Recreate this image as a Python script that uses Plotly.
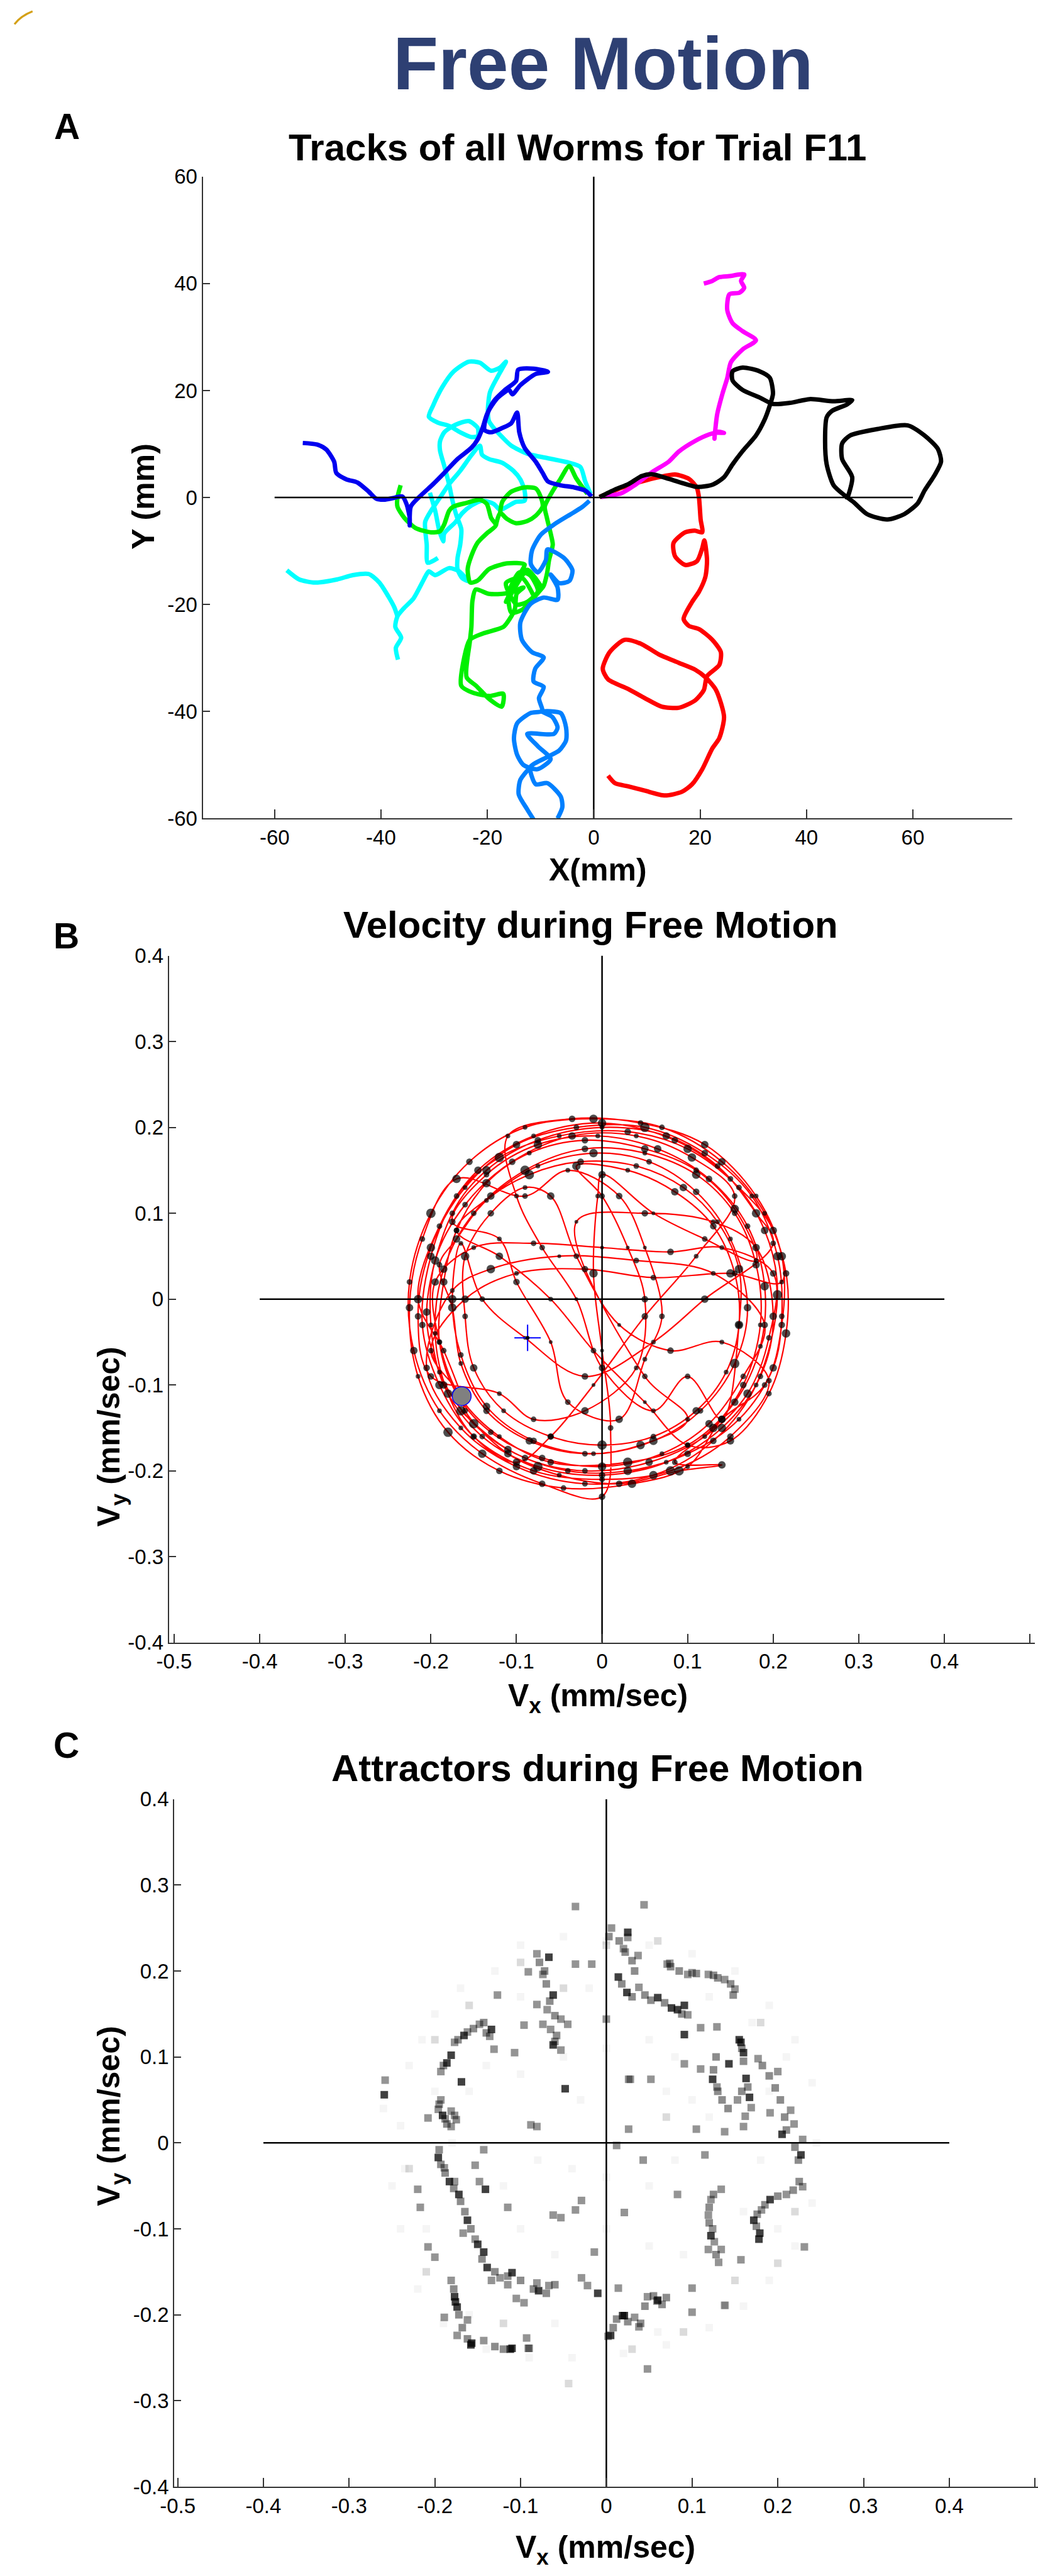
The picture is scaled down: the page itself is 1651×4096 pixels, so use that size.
import plotly.graph_objects as go

# ---------------- Panel A: worm tracks (mm) ----------------
a_blue_x = [-0.4,-1.6,-3.7,-6.3,-8.6,-9.6,-10.9,-13.0,-14.0,-14.4,-15.5,-17.2,-19.3,-20.5,-20.5,-19.7,-18.0,-15.9,-15.3,-13.8,-10.9,-8.6,-11.3,-14.2,-14.6,-16.7,-18.8,-20.1,-20.9,-21.8,-23.0,-25.6,-28.1,-30.2,-32.7,-34.4,-34.6,-34.6,-35.2,-36.0,-37.7,-39.4,-40.9,-42.3,-44.4,-46.5,-48.4,-48.8,-50.3,-52.0,-54.7]
a_blue_y = [0.2,1.3,1.9,2.3,3.0,4.6,6.7,9.3,12.2,15.9,13.9,13.0,12.2,12.6,13.9,16.3,18.7,20.1,19.3,21.0,23.1,23.5,24.1,23.9,21.8,20.1,18.0,15.5,13.0,10.9,9.3,7.2,4.6,2.5,0.2,-1.7,-5.2,-3.8,-1.2,0.2,-0.1,-0.4,-0.2,1.1,2.8,3.4,4.6,6.7,9.0,9.9,10.2]

a_cyan_x = [-0.6,-1.6,-2.5,-4.6,-8.4,-12.5,-15.5,-17.2,-18.8,-19.7,-19.9,-19.5,-18.0,-16.5,-17.6,-19.3,-21.4,-23.5,-26.4,-28.5,-30.2,-31.0,-29.3,-27.2,-25.1,-23.0,-21.8,-21.8,-23.5,-26.0,-28.1,-28.9,-28.9,-28.1,-27.2,-26.6,-25.8,-24.9,-25.1,-25.6,-25.6,-24.7,-23.5,-23.6,-25.3,-27.2,-29.8,-31.0,-31.4,-32.3,-33.9,-35.6,-36.9,-37.3,-36.2,-37.2,-36.8,
            None,
            -57.7,-55.4,-52.4,-48.2,-45.3,-42.3,-40.3,-38.6,-37.5,-36.9,
            None,
            -29.3,-31.2,-31.4,-31.7,-30.6,-28.9,-27.2,-25.1,-23.0,-21.4,-21.0,-19.7,-17.2,-15.1,-13.8,-13.0,-13.0,-14.6,-16.3,-17.6,-18.8,-21.0,-23.0,-24.7,-26.0,-28.1,-28.3,-29.1,-29.8,-30.8]
a_cyan_y = [0.7,3.0,5.7,6.5,7.3,8.2,9.7,11.3,13.0,14.3,16.4,19.7,22.7,25.4,24.3,23.7,25.2,25.4,23.5,20.6,17.2,15.1,14.0,13.4,12.2,11.3,11.5,13.0,14.3,13.6,12.2,10.5,8.8,5.9,2.5,-0.4,-3.4,-5.9,-8.8,-11.3,-13.4,-15.1,-15.7,-15.6,-13.8,-13.2,-14.5,-13.8,-14.3,-16.0,-18.9,-20.6,-22.2,-24.2,-26.2,-28.1,-30.3,
            None,
            -13.6,-15.3,-15.9,-15.3,-14.5,-14.3,-15.9,-18.5,-20.5,-22.2,
            None,
            -11.3,-12.2,-8.8,-4.6,-2.5,0.0,2.5,5.0,7.9,9.7,8.0,7.2,6.5,5.0,3.4,1.3,-0.6,-0.8,-1.7,-2.3,-1.2,-0.6,-1.5,-2.9,-4.6,-6.7,-8.2,-5.9,-2.5,0.9]

a_green_x = [-1.2,-3.3,-4.6,-6.3,-7.9,-9.2,-8.8,-8.1,-7.7,-8.4,-8.8,-9.6,-11.0,-12.5,-14.0,-15.5,-16.5,-14.0,-13.0,-16.3,-19.7,-21.8,-23.2,-23.7,-23.0,-21.8,-20.1,-18.4,-19.3,-20.1,-21.4,-23.9,-26.4,-27.2,-28.1,-28.9,-30.6,-33.5,-35.6,-36.9,-36.9,-36.3,
             None,
             -17.6,-17.2,-15.5,-13.0,-10.9,-10.0,-9.6,-10.9,-12.5,-14.6,-16.3,-17.6,-18.4,
             None,
             -22.2,-19.7,-17.2,-15.8,-13.2,-14.5,-14.8,-15.8,-17.0,-20.8,-23.3,-24.3,-24.9,-22.7,-19.5,-17.0,-17.3,-19.5,-22.1,-23.9,-23.3,-23.0,-22.8,-22.2,
             None,
             -9.6,-11.5,-13.5,-15.5,-16.0,-14.0,-12.0,-10.5,-12.5,-14.5,-16.5,-13.5,-11.0]
a_green_y = [0.7,3.6,5.9,3.4,0.9,-1.7,-3.8,-6.7,-8.8,-11.7,-14.3,-16.8,-15.0,-13.5,-15.5,-18.0,-19.5,-14.5,-12.5,-12.3,-13.4,-15.5,-15.9,-13.4,-10.9,-8.4,-6.7,-5.2,-3.8,-1.2,-0.4,-1.0,-1.7,-2.5,-5.0,-6.3,-6.5,-5.7,-3.8,-1.7,0.0,2.3,
             None,
             -2.9,-0.8,1.1,1.9,1.7,0.2,-1.7,-3.4,-4.4,-4.8,-4.0,-2.9,-5.2,
             None,
             -17.2,-18.0,-18.0,-17.8,-16.8,-18.0,-20.7,-22.7,-24.2,-25.4,-26.6,-29.7,-35.2,-36.5,-37.1,-36.7,-39.1,-37.8,-35.2,-33.6,-27.0,-24.2,-19.3,-17.2,
             None,
             -16.8,-19.0,-21.0,-21.5,-18.0,-14.0,-14.5,-17.5,-19.5,-20.0,-16.0,-15.0,-19.0]

a_azure_x = [-0.8,-2.2,-4.3,-7.4,-10.0,-11.6,-11.8,-10.5,-9.0,-8.7,-5.6,-4.0,-4.6,-6.5,-8.1,-6.8,-6.8,-9.4,-11.9,-13.8,-13.5,-11.6,-9.4,-11.0,-11.3,-9.4,-10.3,-9.7,-11.9,-14.4,-15.0,-14.4,-13.2,-10.6,-8.1,-10.5,-12.5,-7.5,-6.8,-7.8,-9.7,-6.2,-5.2,-5.2,-6.5,-8.7,-11.9,-10.9,-8.7,-6.2,-5.9,-6.8,
             None,
             -11.9,-13.8,-14.1,-12.5,-11.3]
a_azure_y = [-0.6,-1.8,-3.1,-5.0,-7.0,-9.9,-12.5,-14.0,-11.7,-9.7,-11.3,-13.6,-15.6,-16.0,-14.4,-16.8,-19.1,-18.7,-19.9,-23.4,-26.6,-28.9,-29.9,-32.0,-34.4,-35.4,-37.5,-39.9,-40.3,-42.2,-45.0,-48.1,-50.0,-50.8,-48.9,-46.5,-44.2,-44.2,-43.0,-41.0,-40.0,-40.3,-43.0,-45.4,-47.3,-48.5,-50.4,-53.6,-53.4,-55.9,-57.9,-60.0,
             None,
             -50.4,-52.8,-55.5,-58.3,-60.2]

a_magenta_x = [1.4,5.2,7.7,10.9,14.1,16.0,19.1,21.7,22.9,24.5,22.9,22.7,23.2,24.2,25.1,25.8,28.0,30.5,28.0,26.1,25.1,25.5,27.4,28.3,27.7,28.3,25.5,23.6,22.3,20.7]
a_magenta_y = [0.1,0.8,2.3,4.7,6.7,8.6,10.6,11.8,12.1,12.1,12.3,11.0,15.5,19.4,22.3,25.3,27.7,29.4,31.1,32.6,35.1,38.0,38.3,39.2,40.5,41.7,41.4,41.2,40.5,40.0]

a_red_x = [1.1,5.2,9.0,12.2,15.3,17.9,19.4,19.8,20.1,20.4,19.0,17.2,15.0,15.3,17.2,19.4,20.4,20.8,21.3,21.0,19.8,18.5,16.9,17.9,19.8,22.3,23.9,23.6,21.3,20.7,19.1,16.0,12.8,9.6,6.5,2.7,1.7,3.0,5.8,9.0,12.2,16.0,19.1,21.0,23.0,24.5,23.6,22.3,20.4,18.5,16.6,13.4,9.6,6.5,4.0,2.7]
a_red_y = [0.1,1.8,3.0,3.8,4.3,3.5,1.8,-0.1,-4.1,-6.5,-6.2,-6.5,-8.5,-11.0,-12.6,-11.9,-9.5,-8.0,-11.7,-14.8,-17.6,-19.5,-22.7,-24.0,-24.6,-26.6,-28.9,-31.3,-33.4,-36.0,-37.9,-39.3,-39.1,-37.5,-35.8,-34.0,-32.0,-28.9,-26.6,-27.4,-29.3,-30.9,-32.2,-33.6,-36.0,-41.0,-45.0,-46.9,-50.8,-53.6,-55.0,-55.7,-54.8,-54.0,-53.4,-52.0]

a_black_x = [1.1,4.0,6.5,9.0,10.9,14.1,19.4,22.3,24.5,26.1,28.0,30.5,32.1,33.1,33.7,33.1,31.2,28.0,26.1,26.1,28.0,31.2,33.7,36.9,40.6,45.1,48.6,47.6,44.8,43.8,43.5,43.8,45.1,47.3,48.9,51.4,55.2,58.4,60.9,62.2,64.1,65.3,64.7,62.2,59.0,53.3,48.2,46.7,46.7,48.6,47.6]
a_black_y = [0.1,1.5,2.5,4.0,4.35,3.5,2.0,2.4,3.8,6.2,8.7,11.6,14.5,17.2,19.4,22.4,23.6,24.3,23.6,21.9,20.1,18.7,17.5,17.7,18.4,18.0,18.2,17.4,16.2,15.0,10.6,6.2,2.3,0.3,-0.9,-3.1,-4.1,-3.1,-1.1,1.3,4.2,6.7,9.1,11.6,13.5,12.8,11.6,10.1,7.2,3.8,-0.4]

a_ticks = [-60, -40, -20, 0, 20, 40, 60]
a_ticklabels = ["-60", "-40", "-20", "0", "20", "40", "60"]
a_cross = [-60, 60]

# ---------------- Panel B: velocity trajectory (mm/sec) ----------------
b_vx = [
    -0.164,-0.185,
    -0.215,-0.19,-0.145,-0.08,0.0,0.085,0.15,0.19,0.205,0.18,0.13,0.06,-0.02,-0.1,-0.165,-0.205,
    -0.175,-0.13,-0.05,0.04,0.13,0.19,
    0.165,0.125,0.07,0.0,-0.07,-0.13,-0.17,-0.19,-0.185,-0.17,-0.135,-0.085,-0.02,0.05,0.11,0.155,0.18,
    0.12,0.06,0.0,-0.005,-0.01,0.0,0.01,0.0,
    -0.07,-0.14,-0.19,-0.22,-0.225,-0.2,-0.155,-0.09,-0.01,0.07,0.14,0.19,0.215,0.215,0.195,0.15,0.1,
    0.05,-0.01,-0.06,-0.12,-0.17,
    -0.13,-0.075,-0.01,0.055,0.11,0.15,0.17,0.155,0.115,0.06,-0.01,-0.08,-0.135,-0.165,-0.175,-0.165,
    -0.14,-0.09,-0.02,0.06,0.12,0.2,
    0.18,0.135,0.075,0.0,-0.075,-0.135,-0.175,-0.205,-0.19,-0.15,-0.09,-0.02,0.055,0.12,0.17,0.195,0.2,
    0.14,0.08,0.0,-0.08,-0.15,
    -0.195,-0.19,-0.165,-0.12,-0.06,0.03,0.1,0.155,0.185,0.19,0.17,0.125,0.065,-0.005,-0.075,-0.135,-0.175,
    -0.12,-0.1,-0.06,-0.04,0.02,0.05,0.07,0.05,0.02,-0.04,-0.09,
    -0.17,-0.21,-0.225,-0.215,-0.18,-0.12,-0.045,0.035,0.1,0.14,0.19,0.21,0.21,0.18,0.12,0.045,-0.035,-0.11,
    -0.1,-0.07,-0.03,0.0,0.06,0.1,0.14,
    0.16,0.16,0.135,0.095,0.04,-0.025,-0.085,-0.135,-0.17,-0.19,-0.175,-0.165,-0.135,-0.085,-0.02,0.045,0.1,
    0.05,-0.03,0.05,0.13,0.18,
    0.2,0.185,0.14,0.075,0.0,-0.075,-0.14,-0.185,-0.2,-0.195,-0.16,-0.105,-0.035,0.04,0.105,0.155,
    0.11,0.05,-0.01,-0.06,-0.1,
    -0.15,-0.18,-0.195,-0.185,-0.15,-0.09,-0.02,0.05,0.11,0.155,0.18,0.185,0.165,0.13,0.085,0.14,0.09,0.02,-0.05,-0.11,-0.16,-0.164,
    -0.2,-0.16,-0.1,-0.02,0.06,0.15,0.21,
    0.2,0.16,0.1,0.03,-0.05,-0.12,-0.17,-0.2,-0.21,-0.19,-0.15,-0.08,0.0,0.08,0.15,0.195,
    0.14,0.08,0.02,-0.03,-0.06,-0.09,-0.13,
    -0.16,-0.16,-0.15,-0.115,-0.06,0.0,0.06,0.11,0.145,0.16,0.155,0.13,0.085,0.03,-0.03,
    0.0,0.03,0.05,0.04,-0.02,-0.08,-0.12,-0.2,
    -0.215,-0.2,-0.16,-0.1,-0.03,0.05,0.12,0.175,0.205,0.21,0.2,0.16,0.1,0.03,-0.04,-0.11,-0.165,
]
b_vy = [
    -0.113,-0.06,
    0.0,0.085,0.15,0.19,0.205,0.185,0.14,0.08,0.005,-0.1,-0.165,-0.205,-0.215,-0.195,-0.15,-0.08,
    0.01,0.035,0.05,0.045,0.03,-0.03,
    -0.09,-0.145,-0.18,-0.195,-0.185,-0.155,-0.11,-0.05,0.02,0.08,0.135,0.17,0.185,0.175,0.15,0.105,0.045,
    0.07,0.1,0.145,0.12,0.03,-0.06,-0.15,-0.23,
    -0.215,-0.18,-0.13,-0.06,0.02,0.1,0.16,0.2,0.21,0.2,0.16,0.1,0.03,-0.04,-0.11,-0.165,-0.17,
    -0.12,-0.06,0.0,0.05,0.08,
    0.12,0.155,0.17,0.16,0.125,0.07,-0.01,-0.075,-0.13,-0.165,-0.18,-0.165,-0.125,-0.065,0.0,0.065,
    0.0,-0.045,-0.09,-0.05,0.0,0.065,
    0.1,0.155,0.19,0.2,0.185,0.15,0.1,-0.015,-0.085,-0.145,-0.185,-0.2,-0.19,-0.16,-0.11,-0.045,0.03,
    0.06,0.055,0.06,0.065,0.06,
    0.02,-0.05,-0.115,-0.16,-0.19,-0.19,-0.17,-0.12,-0.055,0.015,0.085,0.14,0.175,0.19,0.18,0.145,0.09,
    0.07,0.02,-0.05,-0.12,-0.14,-0.07,-0.02,0.06,0.12,0.15,0.12,
    0.14,0.07,-0.01,-0.09,-0.155,-0.2,-0.22,-0.215,-0.195,-0.14,-0.1,-0.03,0.05,0.12,0.18,0.205,0.21,0.19,
    0.12,0.06,0.0,-0.08,-0.13,-0.09,-0.14,
    -0.03,0.035,0.09,0.13,0.155,0.16,0.145,0.115,0.07,0.04,-0.01,-0.075,-0.13,-0.165,-0.18,-0.17,-0.14,
    -0.09,0.09,0.1,0.09,0.06,
    -0.02,-0.09,-0.15,-0.19,-0.205,-0.195,-0.16,-0.1,-0.03,0.045,0.11,0.16,0.19,0.19,0.165,0.12,
    0.05,-0.02,-0.1,-0.16,-0.19,
    -0.16,-0.11,-0.04,0.035,0.1,0.15,0.175,0.17,0.145,0.1,0.04,-0.03,-0.1,-0.15,-0.19,-0.193,-0.2,-0.215,-0.205,-0.18,-0.13,-0.113,
    -0.06,0.0,0.03,0.035,0.025,0.03,0.02,
    0.08,0.13,0.175,0.195,0.19,0.165,0.12,0.05,-0.03,-0.1,-0.16,-0.2,-0.21,-0.2,-0.16,-0.095,
    -0.05,-0.06,-0.03,0.05,0.12,0.13,0.1,
    0.05,-0.02,-0.08,-0.13,-0.16,-0.17,-0.16,-0.13,-0.085,-0.03,0.03,0.085,0.125,0.15,0.155,
    0.12,0.06,0.0,-0.08,-0.13,-0.14,-0.11,-0.09,
    -0.02,0.06,0.13,0.18,0.2,0.2,0.17,0.12,0.05,-0.02,-0.08,-0.14,-0.18,-0.2,-0.2,-0.175,-0.13,
]
b_dot = [
    8,6,
    9,6,8,5,9,7,6,8,10,5,7,9,6,8,5,7,
    5,9,4,6,5,7,
    6,8,5,9,7,6,10,5,8,6,9,5,7,8,6,9,5,
    6,4,8,5,9,4,6,7,
    7,9,5,8,6,10,7,5,9,6,8,5,7,9,6,8,5,
    4,6,5,8,6,
    8,5,9,6,7,5,8,10,6,9,5,7,8,6,9,5,
    6,4,7,5,8,6,
    9,6,8,5,7,9,6,8,5,10,7,6,8,5,9,6,7,
    5,7,4,6,5,
    8,6,9,5,7,10,6,8,5,9,6,7,8,5,9,6,7,
    5,7,4,6,8,5,6,4,7,5,6,
    9,6,8,5,10,7,6,9,5,8,6,7,9,5,8,6,7,5,
    5,6,4,7,5,6,8,
    7,9,5,8,6,7,10,5,8,6,9,5,7,8,6,9,5,
    6,4,7,5,8,
    8,6,9,5,7,10,6,8,5,9,6,7,8,5,9,6,
    5,7,4,6,8,
    7,9,5,8,6,10,7,5,9,6,8,5,7,9,6,8,10,7,5,8,6,9,
    6,8,5,7,6,9,5,
    8,6,9,7,5,10,6,8,7,9,5,8,6,10,7,6,
    5,7,4,6,8,5,7,
    9,6,8,5,7,10,6,8,5,9,6,7,8,5,9,
    6,4,7,5,8,6,5,7,
    7,9,5,8,6,10,7,5,9,6,8,5,7,9,6,8,10,
]
b_mean = [-0.087, -0.045]
b_start = [-0.164, -0.113]
v_xticks = [-0.5, -0.4, -0.3, -0.2, -0.1, 0, 0.1, 0.2, 0.3, 0.4, 0.5]
v_xticklabels = ["-0.5", "-0.4", "-0.3", "-0.2", "-0.1", "0", "0.1", "0.2", "0.3", "0.4", "0.5"]
v_yticks = [-0.4, -0.3, -0.2, -0.1, 0, 0.1, 0.2, 0.3, 0.4]
v_yticklabels = ["-0.4", "-0.3", "-0.2", "-0.1", "0", "0.1", "0.2", "0.3", "0.4"]
v_cross = [-0.4, 0.4]

# ---------------- Panel C: attractor density squares ----------------
c_dark_x = [-0.067,0.014,0.024,0.06,0.076,0.091,0.091,0.157,0.160,0.143,0.124,0.167,0.205,0.227,0.191,0.172,0.179,0.06,0.019,0.005,-0.01,-0.079,-0.11,-0.139,-0.143,-0.162,-0.177,-0.174,-0.157,-0.11,-0.196,-0.172,-0.141,-0.181,-0.186,-0.134,-0.169,-0.191,-0.259,-0.062,-0.062,-0.048,-0.112,-0.158,0.021,0.025,0.155,0.083,0.163,0.178,0.122,-0.183,-0.166,-0.176,-0.15]
c_dark_y = [0.216,0.193,0.175,0.169,0.157,0.16,0.126,0.117,0.105,0.092,0.074,0.053,0.01,-0.014,-0.066,-0.09,-0.105,-0.183,-0.201,-0.224,-0.175,-0.172,-0.151,-0.145,-0.127,-0.09,-0.179,-0.191,-0.233,-0.239,-0.017,-0.06,-0.054,0.102,0.093,0.132,0.071,0.032,0.056,0.172,0.114,0.063,-0.24,-0.235,-0.201,0.245,0.12,0.155,0.075,-0.112,-0.108,-0.045,0.125,-0.185,-0.118]
c_mid_x = [-0.081,-0.036,-0.017,0.038,0.095,0.071,0.095,0.119,0.138,0.15,0.110,0.129,0.177,0.2,0.091,0.110,0.129,0.153,0.169,0.191,0.215,0.219,0.229,0.162,0.16,0.138,0.105,0.026,0.052,0.028,0.012,0.043,0.115,0.229,0.21,0.181,0.134,0.122,0.119,0.124,0.126,0.134,0.119,0.131,0.157,0.231,0.083,0.048,0.033,0.038,0.014,-0.029,-0.022,-0.014,0.021,0.1,0.1,0.138,-0.081,-0.067,-0.124,-0.153,-0.167,-0.181,-0.162,-0.189,-0.174,-0.143,-0.093,-0.091,-0.096,-0.105,-0.115,-0.134,-0.208,-0.2,-0.062,-0.053,-0.115,-0.036,-0.029,-0.189,-0.177,-0.153,-0.143,-0.148,-0.22,-0.217,-0.193,-0.177,-0.162,-0.148,-0.136,-0.193,-0.196,-0.181,-0.177,-0.208,-0.181,-0.258,-0.127,-0.107,-0.131,-0.096,-0.074,-0.065,-0.053,-0.045,-0.081,-0.069,-0.053,-0.088,-0.081,-0.091,-0.074,0.0,0.026,-0.036,0.044,0.006,0.025,0.02,0.037,0.074,0.1,0.048,-0.09,0.002,0.059]
c_mid_y = [0.22,0.208,0.208,0.181,0.149,0.208,0.196,0.196,0.19,0.179,0.134,0.135,0.098,0.083,0.092,0.086,0.065,0.05,0.041,0.035,0.038,0.022,0.004,0.031,0.019,0.013,0.016,0.016,0.074,0.074,-0.003,-0.02,-0.014,-0.051,-0.06,-0.078,-0.054,-0.066,-0.084,-0.1,-0.115,-0.124,-0.124,-0.139,-0.136,-0.121,-0.06,-0.179,-0.203,-0.214,-0.169,-0.157,-0.166,-0.127,-0.081,-0.169,-0.197,-0.189,-0.163,-0.166,-0.157,-0.112,-0.105,-0.16,-0.206,-0.203,-0.224,-0.23,-0.227,-0.239,-0.186,-0.181,-0.165,-0.16,-0.121,-0.133,-0.084,-0.087,-0.075,-0.078,-0.067,-0.029,-0.045,-0.026,-0.008,-0.045,-0.054,-0.075,0.083,0.117,0.129,0.138,0.124,0.05,0.039,0.037,0.032,0.029,0.019,0.073,0.172,0.105,0.109,0.137,0.138,0.132,0.144,0.138,0.161,0.155,0.108,0.021,0.019,0.199,0.196,0.144,0.074,0.275,0.277,0.25,0.239,0.226,0.218,0.209,0.198,-0.263,-0.239,-0.225,-0.184]
c_chain_x = [0.075,0.085,0.105,0.125,0.13,0.145,0.148,
             0.018,0.03,0.045,0.052,0.068,0.088,
             0.158,0.16,0.165,0.158,
             0.182,0.19,0.197,0.203,0.208,0.21,0.22,0.224,
             0.128,0.125,0.13,0.135,0.142,
             0.225,0.218,0.2,0.185,0.176,0.175,
             0.125,0.12,0.12,0.128,
             0.008,0.012,0.025,0.04,0.045,0.055,0.065,0.07,
             -0.085,-0.07,-0.06,-0.1,-0.115,-0.13,-0.145,-0.158,-0.165,-0.17,
             -0.178,-0.172,-0.168,-0.162,-0.13,-0.12,
             -0.195,-0.193,-0.188,-0.178,
             -0.19,-0.173,-0.155,-0.143,-0.14,
             -0.195,-0.188,-0.186,-0.175,
             -0.078,-0.072,-0.07,-0.066,-0.06,-0.058,-0.06,
             0.003,0.015,0.022,0.03,0.033]
c_chain_y = [0.205,0.2,0.197,0.195,0.192,0.185,0.172,
             0.185,0.17,0.172,0.166,0.163,0.15,
             0.11,0.095,0.065,0.06,
             0.09,0.078,0.064,0.05,0.03,0.015,-0.005,-0.02,
             0.1,0.085,0.06,0.05,0.04,
             -0.045,-0.055,-0.062,-0.072,-0.083,-0.097,
             -0.06,-0.075,-0.093,-0.13,
             -0.215,-0.205,-0.208,-0.21,-0.19,-0.178,-0.188,-0.18,
             -0.17,-0.175,-0.165,-0.16,-0.155,-0.15,-0.135,-0.1,-0.08,-0.068,
             -0.17,-0.2,-0.215,-0.228,-0.237,-0.24,
             -0.008,-0.025,-0.035,-0.053,
             0.09,0.12,0.133,0.14,0.128,
             0.045,0.028,0.022,0.027,
             0.21,0.2,0.185,0.165,0.148,0.125,0.118,
             0.24,0.235,0.222,0.212,0.2]
c_light_x = [-0.044,0.139,-0.1,0.06,0.18,-0.2,-0.23,0.0,0.09,-0.12,0.2,-0.05,0.15,-0.16,0.07,0.22,-0.21,0.03]
c_light_y = [-0.28,-0.189,0.21,0.235,0.14,0.12,-0.03,0.23,-0.22,-0.21,-0.14,0.18,-0.16,0.16,0.03,-0.08,-0.15,-0.24]
c_faint_x = [-0.24,-0.235,-0.23,-0.215,-0.2,-0.17,-0.13,-0.1,-0.05,0.0,0.05,0.1,0.15,0.19,0.22,0.24,0.245,0.24,0.22,0.19,0.16,0.12,0.07,0.02,-0.04,-0.09,-0.14,-0.19,-0.22,-0.24,-0.25,-0.26,-0.18,-0.16,-0.14,-0.1,-0.05,0.0,0.05,0.08,0.1,0.12,0.08,0.05,0.0,-0.04,-0.08,-0.12,-0.1,-0.06,0.0,0.05,0.09,0.16,0.18,0.19,0.17,0.12,-0.02,-0.1,-0.2,-0.21,-0.16,-0.06,0.06,0.2,0.21,0.07,-0.03]
c_faint_y = [0.02,-0.03,0.09,0.12,0.15,0.18,0.2,0.23,0.24,0.235,0.23,0.22,0.2,0.16,0.12,0.07,0.0,-0.07,-0.12,-0.16,-0.19,-0.215,-0.235,-0.245,-0.25,-0.25,-0.24,-0.21,-0.17,-0.1,-0.05,0.04,0.0,0.06,0.09,0.08,0.1,0.11,0.12,0.1,0.05,0.03,-0.02,-0.05,-0.04,-0.03,-0.02,-0.05,-0.1,-0.13,-0.1,-0.12,-0.13,-0.08,-0.02,0.06,0.14,0.17,0.18,0.17,0.06,-0.1,-0.2,-0.21,-0.22,-0.1,0.1,0.06,0.05]

# ---------------- figure ----------------
FONT = "Liberation Sans, Arial, Helvetica, sans-serif"
fig = go.Figure()

tracks = [
    (a_cyan_x, a_cyan_y, "#00FFFF"),
    (a_green_x, a_green_y, "#00F000"),
    (a_azure_x, a_azure_y, "#0080FF"),
    (a_blue_x, a_blue_y, "#0000F0"),
    (a_red_x, a_red_y, "#FF0000"),
    (a_magenta_x, a_magenta_y, "#FF00FF"),
    (a_black_x, a_black_y, "#000000"),
]
for xs, ys, col in tracks:
    fig.add_trace(go.Scatter(x=xs, y=ys, mode="lines", xaxis="x", yaxis="y",
                             line=dict(color=col, width=7, shape="spline", smoothing=0.7),
                             hoverinfo="skip"))
fig.add_trace(go.Scatter(x=a_cross, y=[0, 0], mode="lines", xaxis="x", yaxis="y",
                         line=dict(color="black", width=2.5), hoverinfo="skip"))
fig.add_trace(go.Scatter(x=[0, 0], y=a_cross, mode="lines", xaxis="x", yaxis="y",
                         line=dict(color="black", width=2.5), hoverinfo="skip"))

# Panel B
n = min(len(b_vx), len(b_vy), len(b_dot))
fig.add_trace(go.Scatter(x=b_vx[:n], y=b_vy[:n], mode="lines", xaxis="x2", yaxis="y2",
                         line=dict(color="#FF0000", width=2.2, shape="spline", smoothing=1.0),
                         hoverinfo="skip"))
fig.add_trace(go.Scatter(x=b_vx[:n], y=b_vy[:n], mode="markers", xaxis="x2", yaxis="y2",
                         marker=dict(color="black", size=[s * 1.5 for s in b_dot[:n]], line=dict(width=0)),
                         hoverinfo="skip"))
fig.add_trace(go.Scatter(x=v_cross, y=[0, 0], mode="lines", xaxis="x2", yaxis="y2",
                         line=dict(color="black", width=2.5), hoverinfo="skip"))
fig.add_trace(go.Scatter(x=[0, 0], y=v_cross, mode="lines", xaxis="x2", yaxis="y2",
                         line=dict(color="black", width=2.5), hoverinfo="skip"))
fig.add_trace(go.Scatter(x=[b_start[0]], y=[b_start[1]], mode="markers", xaxis="x2", yaxis="y2",
                         marker=dict(color="#808080", size=30, line=dict(color="#0000FF", width=1.5)),
                         hoverinfo="skip"))
fig.add_trace(go.Scatter(x=[b_mean[0]], y=[b_mean[1]], mode="markers", xaxis="x2", yaxis="y2",
                         marker=dict(symbol="cross-thin", size=30, line=dict(color="#0000FF", width=2)),
                         hoverinfo="skip"))
fig.add_trace(go.Scatter(x=[b_mean[0]], y=[b_mean[1]], mode="markers", xaxis="x2", yaxis="y2",
                         marker=dict(color="black", size=6), hoverinfo="skip"))

# Panel C
for xs, ys, col in [(c_faint_x, c_faint_y, "rgba(0,0,0,0.04)"),
                    (c_light_x, c_light_y, "rgba(0,0,0,0.14)"),
                    (c_mid_x, c_mid_y, "rgba(0,0,0,0.42)"),
                    (c_chain_x, c_chain_y, "rgba(0,0,0,0.45)"),
                    (c_dark_x, c_dark_y, "rgba(0,0,0,0.75)")]:
    fig.add_trace(go.Scatter(x=xs, y=ys, mode="markers", xaxis="x3", yaxis="y3",
                             marker=dict(symbol="square", size=12, color=col, line=dict(width=0)),
                             hoverinfo="skip"))
fig.add_trace(go.Scatter(x=v_cross, y=[0, 0], mode="lines", xaxis="x3", yaxis="y3",
                         line=dict(color="black", width=2.5), hoverinfo="skip"))
fig.add_trace(go.Scatter(x=[0, 0], y=v_cross, mode="lines", xaxis="x3", yaxis="y3",
                         line=dict(color="black", width=2.5), hoverinfo="skip"))

axis_common = dict(showline=True, linecolor="#333333", linewidth=2, ticks="inside",
                   tickcolor="#333333", tickwidth=1.5, showgrid=False, zeroline=False,
                   tickfont=dict(family=FONT, size=33, color="black"), fixedrange=True)

fig.update_layout(
    width=1651, height=4096, margin=dict(l=0, r=0, t=0, b=0),
    paper_bgcolor="white", plot_bgcolor="white", showlegend=False,
    xaxis=dict(domain=[0.1840, 0.9749], range=[-73.5, 78.7], anchor="y",
               tickvals=a_ticks, ticktext=a_ticklabels, ticklen=14, **axis_common),
    yaxis=dict(domain=[0.68381, 0.93525], range=[-60, 60], anchor="x",
               tickvals=a_ticks, ticktext=a_ticklabels, ticklen=11, **axis_common),
    xaxis2=dict(domain=[0.1510, 0.99715], range=[-0.506, 0.506], anchor="y2",
                tickvals=v_xticks, ticktext=v_xticklabels, ticklen=14, **axis_common),
    yaxis2=dict(domain=[0.36096, 0.63008], range=[-0.4, 0.4], anchor="x2",
                tickvals=v_yticks, ticktext=v_yticklabels, ticklen=11, **axis_common),
    xaxis3=dict(domain=[0.1561, 1.0], range=[-0.504, 0.5035], anchor="y3",
                tickvals=v_xticks, ticktext=v_xticklabels, ticklen=14, **axis_common),
    yaxis3=dict(domain=[0.03031, 0.29966], range=[-0.4, 0.4], anchor="x3",
                tickvals=v_yticks, ticktext=v_yticklabels, ticklen=11, **axis_common),
)

def ann(text, x, y, size, color="black", angle=0):
    fig.add_annotation(text=text, x=x, y=y, xref="paper", yref="paper", showarrow=False,
                       xanchor="center", yanchor="middle", textangle=angle,
                       font=dict(family=FONT, size=size, color=color))

ann("<b>Free Motion</b>", 0.5755, 0.97956, 118, color="#2E4073")
ann("<b>A</b>", 0.05128, 0.95500, 57)
ann("<b>Tracks of all Worms for Trial F11</b>", 0.54986, 0.94673, 60)
ann("<b>Y (mm)</b>", 0.12593, 0.80987, 50, angle=-90)
ann("<b>X(mm)</b>", 0.56980, 0.66383, 50)
ann("<b>B</b>", 0.05071, 0.63789, 57)
ann("<b>Velocity during Free Motion</b>", 0.56296, 0.64225, 60)
ann("<b>V<sub>y</sub> (mm/sec)</b>", 0.09459, 0.4416, 50, angle=-90)
ann("<b>V<sub>x</sub> (mm/sec)</b>", 0.56980, 0.33938, 50)
ann("<b>C</b>", 0.05071, 0.32078, 57)
ann("<b>Attractors during Free Motion</b>", 0.56980, 0.31183, 60)
ann("<b>V<sub>y</sub> (mm/sec)</b>", 0.09459, 0.1755, 50, angle=-90)
ann("<b>V<sub>x</sub> (mm/sec)</b>", 0.57721, 0.00574, 50)

# decorative gold arc in the top-left corner of the slide
fig.add_shape(type="path", xref="paper", yref="paper",
              path="M 0,0.99495 Q 0.006,0.99816 0.01766,1.0",
              line=dict(color="#D4A017", width=3))

fig.write_html("out.html")
